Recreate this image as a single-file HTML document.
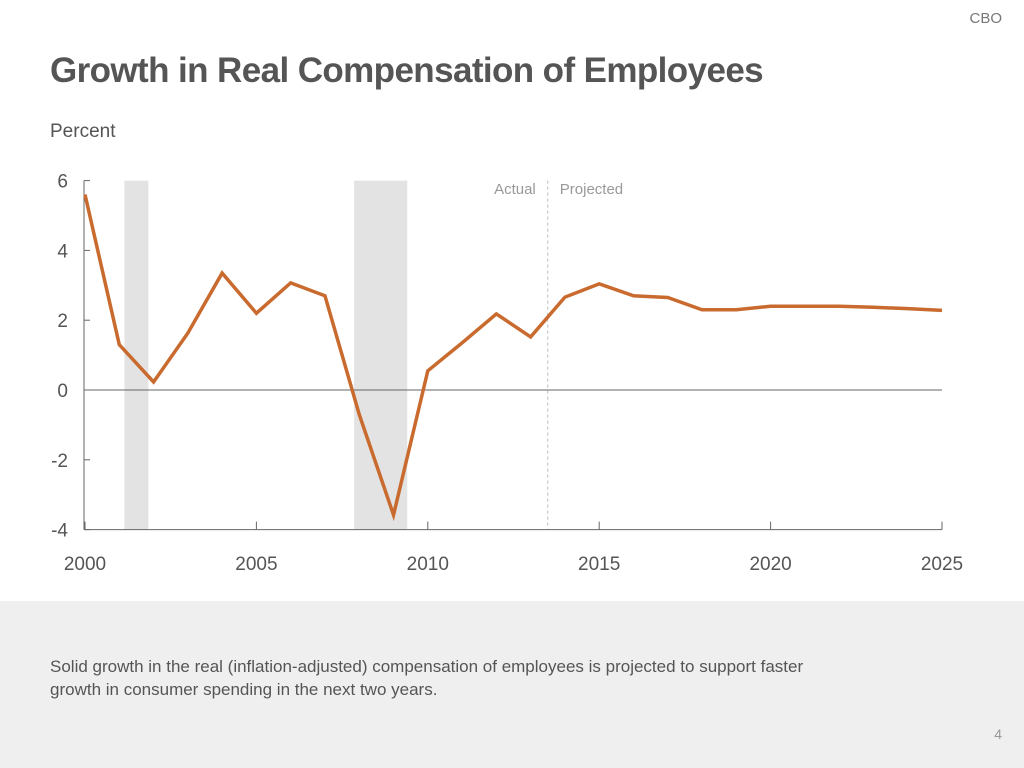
<!DOCTYPE html>
<html><head><meta charset="utf-8">
<style>
body{margin:0;width:1024px;height:768px;background:#fff;font-family:"Liberation Sans",sans-serif;overflow:hidden;position:relative}
.t{position:absolute;color:#555}
</style></head><body>
<div class="t" style="right:22px;top:10px;font-size:15px;color:#777">CBO</div>
<div class="t" style="left:50px;top:51px;font-size:35px;font-weight:bold;color:#555;letter-spacing:-0.6px">Growth in Real Compensation of Employees</div>
<div class="t" style="left:50px;top:121px;font-size:19px;font-family:'Liberation Sans Narrow','Liberation Sans',sans-serif">Percent</div>
<svg id="chart" width="1024" height="600" style="position:absolute;left:0;top:0;font-family:'Liberation Sans Narrow','Liberation Sans',sans-serif"></svg>
<div style="position:absolute;left:0;top:601px;width:1024px;height:167px;background:#efefef"></div>
<div class="t" style="left:50px;top:655px;font-size:17px;line-height:23px;color:#555">Solid growth in the real (inflation-adjusted) compensation of employees is projected to support faster<br>growth in consumer spending in the next two years.</div>
<div class="t" style="right:22px;top:726px;font-size:14px;color:#999">4</div>
<script>
const years=[2000,2001,2002,2003,2004,2005,2006,2007,2008,2009,2010,2011,2012,2013,2014,2015,2016,2017,2018,2019,2020,2021,2022,2023,2024,2025];
const values=[5.6,1.3,0.23,1.63,3.35,2.2,3.07,2.7,-0.7,-3.58,0.55,1.35,2.18,1.52,2.66,3.04,2.7,2.65,2.3,2.3,2.4,2.4,2.4,2.37,2.33,2.28];
const yTicks=[6,4,2,0,-2,-4];
const xTicks=[2000,2005,2010,2015,2020,2025];
const recessions=[[2001.15,2001.85],[2007.85,2009.4]];
const divider=2013.5;
const NS="http://www.w3.org/2000/svg",svg=document.getElementById('chart');
const X=v=>85+(v-2000)*(942-85)/25, Y=v=>390-v*34.9;
function mk(t,a){const e=document.createElementNS(NS,t);for(const k in a)e.setAttribute(k,a[k]);svg.appendChild(e);return e;}
recessions.forEach(r=>{const e=mk('rect',{x:X(r[0]),y:Y(6),width:X(r[1])-X(r[0]),height:Y(-4)-Y(6),fill:'#e3e3e3'});

});
let e=mk('line',{x1:X(divider),x2:X(divider),y1:Y(6),y2:Y(-4),stroke:'#bbb','stroke-dasharray':'3,3'});


e=mk('text',{x:X(divider)-12,y:194,'text-anchor':'end','font-size':15,fill:'#999'});e.textContent='Actual';


e=mk('text',{x:X(divider)+12,y:194,'font-size':15,fill:'#999'});e.textContent='Projected';


e=mk('line',{x1:84,x2:942,y1:Y(0),y2:Y(0),stroke:'#666','stroke-width':1});


e=mk('line',{x1:84,x2:942,y1:Y(-4),y2:Y(-4),stroke:'#666','stroke-width':1});


e=mk('line',{x1:84,x2:84,y1:Y(6),y2:Y(-4),stroke:'#666','stroke-width':1});


yTicks.forEach(v=>{const t=mk('text',{x:68,y:Y(v)+7,'text-anchor':'end','font-size':19,fill:'#555'});t.textContent=v;


const l=mk('line',{x1:84,x2:90,y1:Y(v),y2:Y(v),stroke:'#666'});

});
xTicks.forEach(v=>{const t=mk('text',{x:X(v),y:570,'text-anchor':'middle','font-size':19,fill:'#555'});t.textContent=v;


const l=mk('line',{x1:X(v),x2:X(v),y1:Y(-4),y2:Y(-4)-8,stroke:'#666'});

});
e=mk('polyline',{points:years.map((y,i)=>X(y)+','+Y(values[i])).join(' '),fill:'none',stroke:'#c96a2e','stroke-width':3.5,'stroke-linejoin':'miter'});


</script>
</body></html>
